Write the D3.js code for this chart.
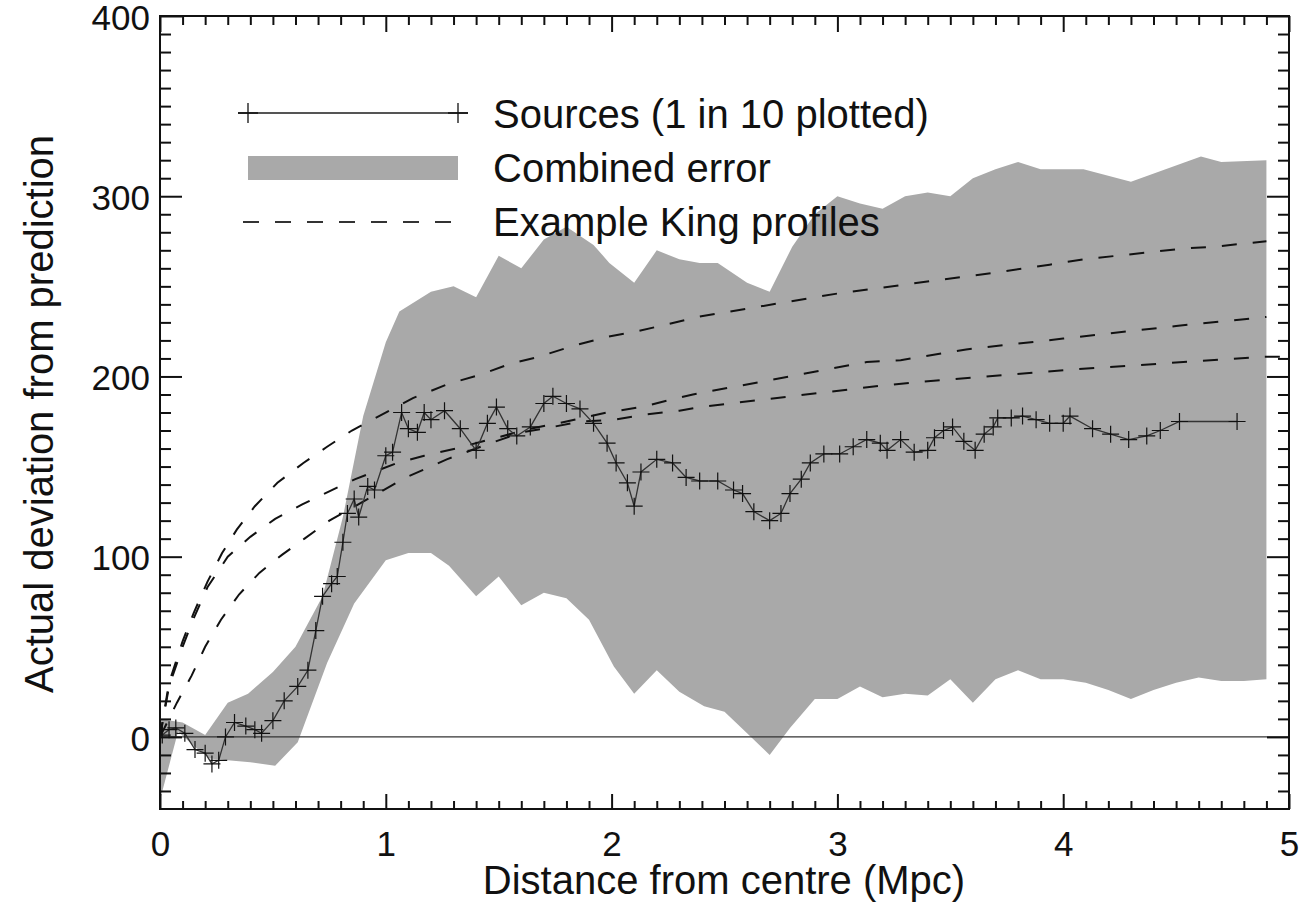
<!DOCTYPE html>
<html><head><meta charset="utf-8">
<script src="https://cdn.jsdelivr.net/npm/d3@7"></script>
<style>
body{margin:0;background:#fff}
text{font-family:"Liberation Sans",Arial,Helvetica,sans-serif;fill:#111}
</style>
</head><body>
<svg id="chart" width="1307" height="909"></svg>
<script>
// ---------- data ----------
const xTickValues = [0, 1, 2, 3, 4, 5];
const yTickValues = [0, 100, 200, 300, 400];
const xTitle = "Distance from centre (Mpc)";
const yTitle = "Actual deviation from prediction";
const legendLabels = ["Sources (1 in 10 plotted)", "Combined error", "Example King profiles"];

// Combined error band: upper edge
const bandUpperX = [0,0.1,0.2,0.3,0.39,0.5,0.6,0.72,0.81,0.9,1.0,1.06,1.2,1.3,1.4,1.5,1.6,1.7,1.8,1.92,1.99,2.1,2.2,2.3,2.39,2.47,2.6,2.7,2.8,2.9,3.0,3.1,3.2,3.3,3.4,3.5,3.6,3.7,3.8,3.9,4.09,4.3,4.61,4.7,4.9];
const bandUpperV = [10,8,1,19,24,36,50,78,122,178,219,236,247,250,244,267,260,276,283,273,263,252,270,265,263,263,252,247,272,290,300,296,293,300,302,300,310,315,319,315,315,308,322,319,320];
// Combined error band: lower edge
const bandLowerX = [0,0.08,0.15,0.22,0.3,0.4,0.51,0.61,0.74,0.86,1.0,1.1,1.2,1.28,1.4,1.5,1.6,1.7,1.8,1.9,2.01,2.1,2.2,2.3,2.41,2.5,2.6,2.7,2.79,2.9,3.0,3.1,3.2,3.3,3.4,3.5,3.6,3.7,3.8,3.9,4.0,4.1,4.2,4.3,4.4,4.5,4.6,4.7,4.8,4.9];
const bandLowerV = [-35,3,-5,-12,-13,-14,-16,-3,41,74,98,102,102,95,78,89,73,80,77,65,39,24,37,25,17,14,2,-10,5,21,21,28,22,24,23,32,19,32,37,32,32,30,26,21,26,30,33,31,31,32];

// Sources (1 in 10 plotted)
const sourceX = [0.01,0.04,0.07,0.11,0.155,0.2,0.23,0.26,0.29,0.33,0.38,0.42,0.45,0.5,0.55,0.61,0.655,0.69,0.72,0.76,0.785,0.81,0.83,0.86,0.88,0.92,0.95,1.0,1.03,1.07,1.1,1.14,1.17,1.2,1.26,1.33,1.4,1.45,1.49,1.54,1.58,1.64,1.7,1.74,1.8,1.86,1.92,1.98,2.02,2.07,2.1,2.13,2.2,2.27,2.33,2.39,2.47,2.54,2.58,2.63,2.7,2.75,2.79,2.84,2.88,2.94,3.01,3.07,3.13,3.19,3.22,3.28,3.34,3.4,3.43,3.47,3.51,3.56,3.61,3.65,3.69,3.71,3.77,3.82,3.88,3.94,4.0,4.03,4.13,4.21,4.29,4.37,4.43,4.515,4.77];
const sourceV = [1,4,5,2,-7,-9,-15,-13,0,8,6,4,2,9,20,28,37,59,78,85,89,108,124,132,122,139,137,156,158,180,171,169,180,176,181,171,159,174,183,171,167,172,185,189,185,182,174,163,152,141,128,147,154,152,144,142,142,137,135,125,120,124,135,143,152,157,157,161,165,163,159,165,158,159,166,170,172,164,159,168,172,177,177,178,176,174,174,178,171,168,165,167,170,175,175];

// Example King profiles
const kingTopX = [0,0.04,0.1,0.15,0.21,0.275,0.34,0.42,0.52,0.635,0.74,0.85,0.97,1.12,1.28,1.42,1.55,1.68,1.83,1.98,2.11,2.25,2.38,3.0,3.72,3.94,4.09,4.24,4.39,4.53,4.67,4.82,4.9];
const kingTopV = [0,30,53,69,86,102,115,128,141,152,161,170,178,188,196,201,207,211,217,222,225,229,233,246,258,262,265,267,269,271,272,274,275];
const kingMidX = [0,0.04,0.1,0.15,0.21,0.3,0.4,0.51,0.63,0.745,0.865,1.05,1.17,1.31,1.46,1.64,1.8,1.98,2.13,2.26,2.36,3.13,3.28,3.57,4.0,4.5,4.9];
const kingMidV = [0,28,50,66,83,100,111,121,129,136,143,152,156,160,165,171,175,180,183,187,190,208,209,215,221,228,233];
const kingLowX = [0,0.075,0.14,0.2,0.27,0.35,0.44,0.54,0.64,0.75,1.09,1.27,1.42,1.6,1.7,1.86,2.01,2.16,2.3,2.39,3.2,3.37,4.06,4.89,4.97];
const kingLowV = [0,19,34,50,65,79,91,101,110,120,144,154,161,169,171,175,176,179,181,183,195,197,204,211,211];

// ---------- chart ----------
const L = 160, R = 1289, T = 16, B = 809;
const svg = d3.select("#chart");
const x = d3.scaleLinear().domain([0, 5]).range([L, R]);
const y = d3.scaleLinear().domain([-40, 400]).range([B, T]);

svg.append("defs").append("clipPath").attr("id", "clip")
  .append("rect").attr("x", L).attr("y", T).attr("width", R - L).attr("height", B - T);
const plot = svg.append("g").attr("clip-path", "url(#clip)");

// band
const bandPts = bandUpperX.map((d, i) => [d, bandUpperV[i]])
  .concat(bandLowerX.map((d, i) => [d, bandLowerV[i]]).reverse());
const line = d3.line().x(d => x(d[0])).y(d => y(d[1]));
plot.append("path").attr("d", line(bandPts) + "Z").attr("fill", "#a9a9a9").attr("stroke", "none");

// zero line
plot.append("line").attr("x1", x(0)).attr("x2", x(5)).attr("y1", y(0)).attr("y2", y(0))
  .attr("stroke", "#333").attr("stroke-width", 1.4);

// King profiles
[[kingTopX, kingTopV], [kingMidX, kingMidV], [kingLowX, kingLowV]].forEach(([xs, vs]) => {
  plot.append("path").attr("d", line(xs.map((d, i) => [d, vs[i]])))
    .attr("fill", "none").attr("stroke", "#111").attr("stroke-width", 2)
    .attr("stroke-dasharray", "15,16");
});

// sources line + markers
const srcPts = sourceX.map((d, i) => [d, sourceV[i]]);
plot.append("path").attr("d", line(srcPts)).attr("fill", "none")
  .attr("stroke", "#333").attr("stroke-width", 1.3);
const plus = s => `M${-s},0H${s}M0,${-s}V${s}`;
plot.append("g").selectAll("path").data(srcPts).join("path")
  .attr("transform", d => `translate(${x(d[0])},${y(d[1])})`)
  .attr("d", plus(8.5)).attr("stroke", "#111").attr("stroke-width", 1.2).attr("fill", "none");

// axes
const fsTick = 35, fs = 40;
function styleAxis(g) { g.select(".domain").remove(); g.selectAll(".tick line").attr("stroke", "#111").attr("stroke-width", 2); }
const minorX = d3.range(1, 50).map(d => d / 10).filter(d => Math.abs(d - Math.round(d)) > 1e-6);
const minorY = d3.range(-30, 400, 10).filter(d => d % 100 !== 0);

svg.append("g").attr("transform", `translate(0,${B})`)
  .call(d3.axisBottom(x).tickValues(xTickValues).tickSize(-15).tickPadding(22).tickFormat(d3.format("d")))
  .call(styleAxis)
  .call(g => g.selectAll("text").attr("font-size", fsTick).attr("font-family", null).attr("fill", "#111"));
svg.append("g").attr("transform", `translate(0,${B})`)
  .call(d3.axisBottom(x).tickValues(minorX).tickSize(-8).tickFormat("")).call(styleAxis);
svg.append("g").attr("transform", `translate(0,${T})`)
  .call(d3.axisTop(x).tickValues(xTickValues).tickSize(-16).tickFormat("")).call(styleAxis);
svg.append("g").attr("transform", `translate(0,${T})`)
  .call(d3.axisTop(x).tickValues(minorX).tickSize(-9).tickFormat("")).call(styleAxis);

svg.append("g").attr("transform", `translate(${L},0)`)
  .call(d3.axisLeft(y).tickValues(yTickValues).tickSize(-22).tickPadding(10).tickFormat(d3.format("d")))
  .call(styleAxis)
  .call(g => g.selectAll("text").attr("font-size", fsTick).attr("font-family", null).attr("fill", "#111").attr("dy", "0.38em"));
svg.append("g").attr("transform", `translate(${L},0)`)
  .call(d3.axisLeft(y).tickValues(minorY).tickSize(-11).tickFormat("")).call(styleAxis);
svg.append("g").attr("transform", `translate(${R},0)`)
  .call(d3.axisRight(y).tickValues(yTickValues).tickSize(-22).tickFormat("")).call(styleAxis);
svg.append("g").attr("transform", `translate(${R},0)`)
  .call(d3.axisRight(y).tickValues(minorY).tickSize(-11).tickFormat("")).call(styleAxis);

// frame
svg.append("rect").attr("x", L).attr("y", T).attr("width", R - L).attr("height", B - T)
  .attr("fill", "none").attr("stroke", "#111").attr("stroke-width", 2);

// titles
svg.append("text").attr("x", 724).attr("y", 894).attr("text-anchor", "middle")
  .attr("font-size", fs).text(xTitle);
svg.append("text").attr("transform", `translate(53,414) rotate(-90)`)
  .attr("text-anchor", "middle").attr("font-size", fs).text(yTitle);

// legend
const lg = svg.append("g");
const lx0 = 248, lx1 = 458, textX = 493;
lg.append("line").attr("x1", 238).attr("x2", 468).attr("y1", 113).attr("y2", 113)
  .attr("stroke", "#555").attr("stroke-width", 2);
[lx0, lx1].forEach(px => lg.append("path").attr("transform", `translate(${px},113)`)
  .attr("d", plus(10)).attr("stroke", "#111").attr("stroke-width", 1.3));
lg.append("rect").attr("x", lx0).attr("y", 156).attr("width", lx1 - lx0).attr("height", 24).attr("fill", "#a9a9a9");
lg.append("line").attr("x1", 243).attr("x2", lx1).attr("y1", 222).attr("y2", 222)
  .attr("stroke", "#333").attr("stroke-width", 2).attr("stroke-dasharray", "16,16");
[128, 182, 236].forEach((by, i) => lg.append("text").attr("x", textX).attr("y", by)
  .attr("font-size", fs).text(legendLabels[i]));
</script>
</body></html>
